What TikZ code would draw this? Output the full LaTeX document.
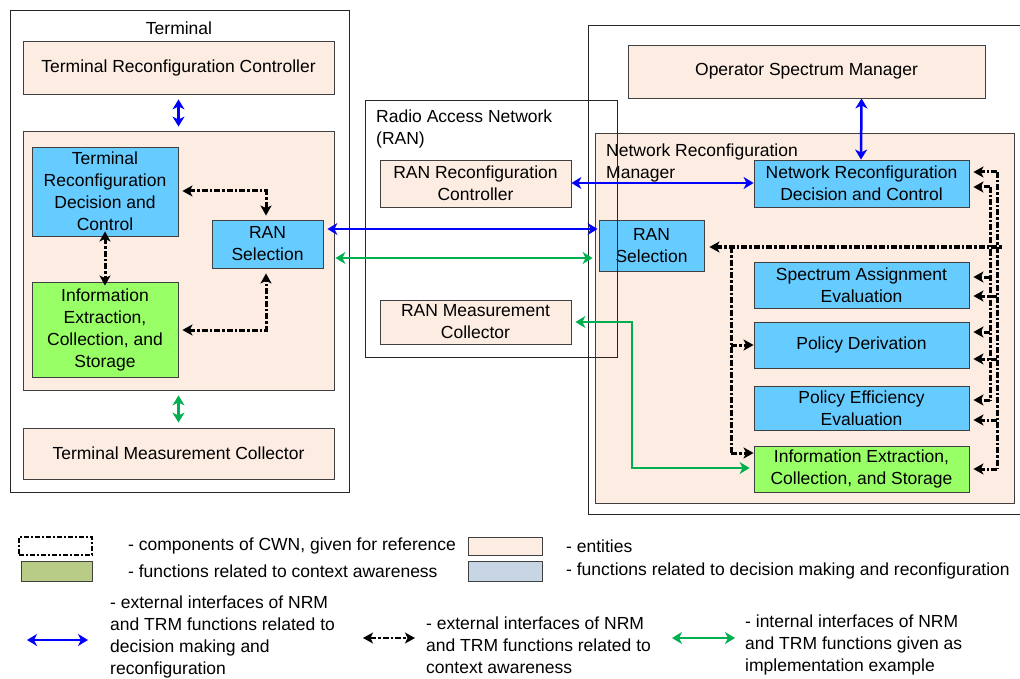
\documentclass[tikz,border=0pt]{standalone}
\usepackage{fontspec}
\setmainfont{Liberation Sans}
\usetikzlibrary{arrows.meta,calc}
\definecolor{peach}{HTML}{FCECE2}
\definecolor{fblue}{HTML}{66CCFF}
\definecolor{fgreen}{HTML}{99FF66}
\definecolor{lgreen}{RGB}{184,204,136}
\definecolor{lblue}{RGB}{200,213,229}
\definecolor{bgray}{HTML}{404040}
\definecolor{ablue}{HTML}{0000FF}
\definecolor{agreen}{HTML}{00B050}
\begin{document}
\begin{tikzpicture}[x=1pt,y=-1pt,
  every node/.style={font=\fontsize{17.5}{22}\selectfont, inner sep=0pt},
  frame/.style={draw=black!85, line width=0.9pt, fill=none},
  ent/.style={draw=bgray, fill=peach, line width=0.85pt, align=center},
  fnb/.style={draw=bgray, fill=fblue, line width=0.85pt, align=center},
  fng/.style={draw=bgray, fill=fgreen, line width=0.85pt, align=center},
  barr/.style={draw=ablue, line width=2.5pt, >={Stealth[length=10pt,width=12pt,inset=3pt]}},
  garr/.style={draw=agreen, line width=2.5pt, >={Stealth[length=10pt,width=12pt,inset=3pt]}},
  dd/.style={draw=black, line width=3pt, dash pattern=on 6pt off 2pt on 2.5pt off 2pt, >={Stealth[length=10pt,width=11pt,inset=2.5pt]}},
]
\useasboundingbox (0,0) rectangle (1020,679);

% ---------- Terminal ----------
\node[frame, minimum width=339pt, minimum height=482pt] (term) at (179.5,251) {};
\node (termlbl) at (179,28) {Terminal};
\node[ent, minimum width=311pt, minimum height=53pt] (trc) at (178.5,67.5) {Terminal Reconfiguration Controller};
\node[ent, minimum width=311pt, minimum height=259pt] (tin) at (178.5,260.5) {};
\node[fnb, minimum width=146pt, minimum height=89pt] (trdc) at (105,191.5) {Terminal\\Reconfiguration\\Decision and\\Control};
\node[fnb, minimum width=111pt, minimum height=48pt] (tsel) at (267.5,244) {RAN\\Selection};
\node[fng, minimum width=146pt, minimum height=95pt] (tiecs) at (105,329.5) {Information\\Extraction,\\Collection, and\\Storage};
\node[ent, minimum width=311pt, minimum height=51pt] (tmc) at (178.5,453.5) {Terminal Measurement Collector};

% ---------- Operator / NRM ----------
\node[frame, minimum width=442pt, minimum height=489pt] (oper) at (809,269.5) {};
\node[ent, minimum width=357pt, minimum height=53pt] (osm) at (806.5,71.5) {Operator Spectrum Manager};
\node[ent, minimum width=419pt, minimum height=370pt] (nrm) at (804.5,318) {};
\node[anchor=west, align=left] (nrmlbl) at (606,162.5) {Network Reconfiguration\\Manager};
\node[fnb, minimum width=215pt, minimum height=47pt] (nrdc) at (861.5,183.5) {Network Reconfiguration\\Decision and Control};
\node[fnb, minimum width=105pt, minimum height=51pt] (nsel) at (651.5,245.5) {RAN\\Selection};
\node[fnb, minimum width=215pt, minimum height=46pt] (sae) at (861.5,285) {Spectrum Assignment\\Evaluation};
\node[fnb, minimum width=215pt, minimum height=46pt] (pd) at (861.5,345) {Policy Derivation};
\node[fnb, minimum width=215pt, minimum height=44pt] (pee) at (861.5,408) {Policy Efficiency\\Evaluation};
\node[fng, minimum width=215pt, minimum height=46pt] (niecs) at (861.5,469) {Information Extraction,\\Collection, and Storage};

% ---------- RAN ----------
\node[frame, minimum width=252pt, minimum height=257pt] (ran) at (491,228.5) {};
\node[anchor=west, align=left] (ranlbl) at (376,128.5) {Radio Access Network\\(RAN)};
\node[ent, minimum width=191pt, minimum height=47pt] (ranrc) at (475.5,183.5) {RAN Reconfiguration\\Controller};
\node[ent, minimum width=191pt, minimum height=44pt] (ranmc) at (475.5,322) {RAN Measurement\\Collector};

% ---------- helper coordinates ----------
\coordinate (yb) at (0,229);
\coordinate (yg) at (0,258);
\coordinate (yr) at (0,183);
\coordinate (ym) at (0,322);
\coordinate (gx) at (632,0);
\coordinate (yi) at (0,468);
\coordinate (ta) at (266,191);
\coordinate (tb) at (266,330);
\coordinate (ys) at (0,247);
\coordinate (xl) at (731,0);
\coordinate (xo) at (997,0);
\coordinate (xi) at (990,0);
\coordinate (xe) at (1002,0);

% ---------- blue arrows ----------
\draw[barr,<->] ($(trc.south)+(0,5)$) -- ($(tin.north)+(0,-4)$);
\draw[barr,<->] ($(tsel.east|-yb)+(4,0)$) -- ($(nsel.west|-yb)+(-1,0)$);
\draw[barr,<->] (ranrc.east|-yr) -- (nrdc.west|-yr);
\draw[barr,<->] ($(osm.south)+(55,0)$) -- ($(nrdc.north)+(-0.5,0)$);

% ---------- green arrows ----------
\draw[garr,<->] ($(tin.south)+(0,5)$) -- ($(tmc.north)+(0,-5)$);
\draw[garr,<->] ($(tsel.east|-yg)+(12,0)$) -- ($(nsel.west|-yg)+(-6,0)$);
\draw[garr,<->] ($(niecs.west|-yi)+(-4,0)$) -- (gx|-yi) -- (gx|-ym) -- ($(ranmc.east|-ym)+(4,0)$);

% ---------- terminal dashed ----------
\draw[dd,<->] ($(trdc.east|-ta)+(4,0)$) -- (ta) -- ($(tsel.north)+(-1.5,-4)$);
\draw[dd,<->] ($(trdc.south)+(0,-5)$) -- ($(tiecs.north)+(0,4)$);
\draw[dd,<->] ($(tiecs.east|-tb)+(4,0)$) -- (tb) -- ($(tsel.south)+(-1.5,5)$);

% ---------- NRM dashed ----------
\draw[dd,<-] ($(nsel.east|-ys)+(5,0)$) -- (xe|-ys);
\draw[dd] (xl|-ys) -- (xl|-{(0,453)});
\draw[dd,->] (xl|-{(0,453)}) -- ($(niecs.west|-{(0,453)})$);
\draw[dd,->] (xl|-{(0,345)}) -- (pd.west);
% outer vertical
\draw[dd] (xo|-{(0,172)}) -- (xo|-{(0,469)});
\draw[dd,->] (xo|-{(0,172)}) -- ($(nrdc.east|-{(0,172)})+(4,0)$);
\draw[dd,->] (xo|-{(0,296)}) -- ($(sae.east|-{(0,296)})+(4,0)$);
\draw[dd,->] (xo|-{(0,359)}) -- ($(pd.east|-{(0,359)})+(4,0)$);
\draw[dd,->] (xo|-{(0,420)}) -- ($(pee.east|-{(0,420)})+(4,0)$);
\draw[dd,->] (xo|-{(0,469)}) -- ($(niecs.east|-{(0,469)})+(4,0)$);
% inner vertical
\draw[dd] (xi|-{(0,187)}) -- (xi|-{(0,400)});
\draw[dd,->] (xi|-{(0,187)}) -- ($(nrdc.east|-{(0,187)})+(4,0)$);
\draw[dd,->] (xi|-{(0,277)}) -- ($(sae.east|-{(0,277)})+(4,0)$);
\draw[dd,->] (xi|-{(0,332)}) -- ($(pd.east|-{(0,332)})+(4,0)$);
\draw[dd,->] (xi|-{(0,400)}) -- ($(pee.east|-{(0,400)})+(4,0)$);

% ---------- legend ----------
\node[draw=black, line width=1.8pt, dash pattern=on 5pt off 2pt on 2pt off 2pt, minimum width=73pt, minimum height=18pt] (lg1) at (55.5,546) {};
\node[draw=bgray, fill=lgreen, line width=0.85pt, minimum width=71pt, minimum height=20pt] (lg2) at (56.5,571) {};
\node[anchor=west] (lt1) at (128,546) {- components of CWN, given for reference};
\node[anchor=west] (lt2) at (128,571) {- functions related to context awareness};
\node[draw=bgray, fill=peach, line width=0.85pt, minimum width=74pt, minimum height=18pt] (lg3) at (505,546) {};
\node[draw=bgray, fill=lblue, line width=0.85pt, minimum width=74pt, minimum height=20pt] (lg4) at (505,571) {};
\node[anchor=west] (lt3) at (566,546) {- entities};
\node[anchor=west] (lt4) at (566,571) {- functions related to decision making and reconfiguration};

\coordinate (la1) at (27,640);
\coordinate (la2) at (88,640);
\draw[barr,<->] (la1) -- (la2);
\node[anchor=west, align=left] (lt5) at (110,637) {- external interfaces of NRM\\and TRM functions related to\\decision making and\\reconfiguration};
\coordinate (lb1) at (363,638);
\coordinate (lb2) at (415,638);
\draw[dd,<->,line width=1.4pt] (lb1) -- (lb2);
\node[anchor=west, align=left] (lt6) at (426,645) {- external interfaces of NRM\\and TRM functions related to\\context awareness};
\coordinate (lc1) at (672,638);
\coordinate (lc2) at (735,638);
\draw[garr,<->] (lc1) -- (lc2);
\node[anchor=west, align=left] (lt7) at (745,645) {- internal interfaces of NRM\\and TRM functions given as\\implementation example};
\end{tikzpicture}
\end{document}
